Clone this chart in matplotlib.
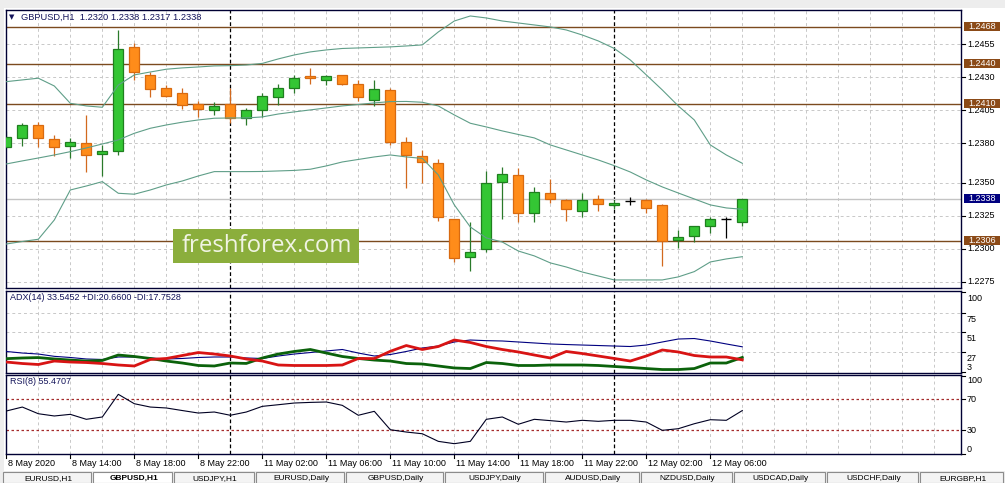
import matplotlib.pyplot as plt
import matplotlib.transforms as mtransforms
from matplotlib.patches import Rectangle

plt.rcParams['font.family'] = ['Liberation Sans', 'DejaVu Sans']

# ======== GBPUSD H1, 8 May 10:00 .. 12 May 08:00 ========
opens = [1.2377, 1.2384, 1.2394, 1.2383, 1.2378, 1.2380, 1.2372, 1.2374, 1.2453, 1.2432,
         1.2422, 1.2418, 1.2410, 1.2405, 1.2410, 1.2399, 1.2405, 1.2415, 1.2422, 1.2431,
         1.2428, 1.2432, 1.2425, 1.2413, 1.2420, 1.2381, 1.2370, 1.2365, 1.2323, 1.2294,
         1.2300, 1.2351, 1.2356, 1.2327, 1.2342, 1.2337, 1.2329, 1.2338, 1.2333, 1.2336,
         1.2337, 1.2333, 1.2307, 1.2310, 1.2317, 1.2323, 1.2320]
highs = [1.2389, 1.2395, 1.2396, 1.2386, 1.2384, 1.2401, 1.2379, 1.2466, 1.2456, 1.2434,
         1.2424, 1.2422, 1.2412, 1.2411, 1.2422, 1.2407, 1.2418, 1.2425, 1.2432, 1.2437,
         1.2432, 1.2432, 1.2428, 1.2428, 1.2422, 1.2385, 1.2375, 1.2368, 1.2323, 1.2320,
         1.2359, 1.2362, 1.2361, 1.2347, 1.2353, 1.2338, 1.2342, 1.2341, 1.2337, 1.2339,
         1.2338, 1.2334, 1.2314, 1.2317, 1.2324, 1.2324, 1.2338]
lows = [1.2376, 1.2378, 1.2377, 1.2370, 1.2369, 1.2358, 1.2355, 1.2371, 1.2428, 1.2415,
        1.2415, 1.2406, 1.2400, 1.2401, 1.2395, 1.2394, 1.2400, 1.2409, 1.2418, 1.2425,
        1.2424, 1.2424, 1.2412, 1.2408, 1.2379, 1.2346, 1.2350, 1.2321, 1.2290, 1.2283,
        1.2298, 1.2323, 1.2320, 1.2320, 1.2335, 1.2321, 1.2324, 1.2329, 1.2330, 1.2333,
        1.2327, 1.2287, 1.2301, 1.2305, 1.2312, 1.2308, 1.2317]
closes = [1.2385, 1.2394, 1.2384, 1.2377, 1.2381, 1.2371, 1.2374, 1.2451, 1.2434, 1.2421,
          1.2416, 1.2409, 1.2406, 1.2408, 1.2399, 1.2405, 1.2416, 1.2422, 1.2429, 1.2429,
          1.2431, 1.2425, 1.2415, 1.2421, 1.2381, 1.2371, 1.2366, 1.2324, 1.2293, 1.2298,
          1.2350, 1.2357, 1.2327, 1.2343, 1.2338, 1.2330, 1.2337, 1.2334, 1.2335, 1.2336,
          1.2331, 1.2306, 1.2309, 1.2317, 1.2323, 1.2323, 1.2338]

# Bollinger bands
bb_upper = [1.24266, 1.24279, 1.24292, 1.24233, 1.24102, 1.24082, 1.24072, 1.24240, 1.24317, 1.24339,
            1.24360, 1.24370, 1.24377, 1.24385, 1.24387, 1.24392, 1.24404, 1.24438, 1.24468, 1.24491,
            1.24506, 1.24517, 1.24521, 1.24525, 1.24529, 1.24536, 1.24544, 1.24642, 1.24725, 1.24763,
            1.24748, 1.24725, 1.24710, 1.24695, 1.24680, 1.24657, 1.24619, 1.24574, 1.24517, 1.24430,
            1.24317, 1.24203, 1.24082, 1.23976, 1.23787, 1.23711, 1.23648]
bb_mid = [1.23643, 1.23666, 1.23688, 1.23711, 1.23736, 1.23764, 1.23794, 1.23825, 1.23875, 1.23913,
          1.23938, 1.23959, 1.23976, 1.23989, 1.23991, 1.23991, 1.23999, 1.24021, 1.24037, 1.24052,
          1.24067, 1.24082, 1.24093, 1.24105, 1.24115, 1.24116, 1.24110, 1.24082, 1.24014, 1.23951,
          1.23923, 1.23893, 1.23866, 1.23840, 1.23787, 1.23749, 1.23711, 1.23673, 1.23630, 1.23582,
          1.23522, 1.23469, 1.23423, 1.23378, 1.23333, 1.23310, 1.23300]
bb_lower = [1.23037, 1.23056, 1.23073, 1.23219, 1.23446, 1.23476, 1.23509, 1.23421, 1.23414, 1.23446,
            1.23484, 1.23514, 1.23552, 1.23585, 1.23585, 1.23585, 1.23586, 1.23590, 1.23594, 1.23603,
            1.23628, 1.23658, 1.23677, 1.23696, 1.23711, 1.23696, 1.23685, 1.23560, 1.23333, 1.23166,
            1.23083, 1.23052, 1.22984, 1.22947, 1.22894, 1.22863, 1.22825, 1.22795, 1.22765, 1.22765,
            1.22765, 1.22765, 1.22788, 1.22828, 1.22901, 1.22924, 1.22941]

# ADX(14) panel
adx = [27.9, 26.0, 24.8, 22.0, 20.6, 18.8, 18.2, 21.2, 21.2, 20.0,
       18.8, 19.4, 20.6, 21.2, 21.2, 20.0, 19.4, 22.4, 24.8, 26.6,
       28.5, 30.3, 26.0, 22.4, 24.2, 27.9, 32.1, 34.5, 39.4, 41.8,
       41.0, 40.6, 39.4, 38.2, 37.0, 36.3, 35.7, 35.1, 34.5, 33.9,
       35.7, 39.4, 43.0, 43.6, 40.6, 37.0, 33.55]
plus_di = [19.2, 20.0, 20.5, 18.8, 17.5, 16.3, 17.0, 23.6, 21.8, 19.4,
           16.3, 13.9, 10.9, 10.3, 13.9, 13.4, 20.0, 24.8, 27.9, 30.3,
           26.0, 21.8, 19.4, 17.5, 16.3, 13.3, 12.7, 10.3, 7.9, 7.2,
           14.5, 13.3, 10.9, 10.9, 11.5, 11.5, 11.5, 10.9, 9.7, 8.5,
           7.2, 6.0, 6.0, 7.2, 13.9, 13.9, 20.66]
minus_di = [15.1, 13.3, 12.1, 16.3, 15.1, 14.5, 13.3, 11.5, 10.3, 18.2,
            19.4, 23.0, 26.6, 24.8, 22.4, 18.8, 16.3, 11.5, 10.9, 10.9,
            10.9, 11.5, 19.4, 19.3, 28.1, 35.1, 30.3, 33.9, 41.8, 38.8,
            33.9, 30.3, 27.3, 23.6, 20.0, 27.9, 25.4, 22.4, 19.4, 16.3,
            22.4, 29.7, 27.3, 23.0, 21.2, 21.2, 17.75]

# RSI(8) panel
rsi = [54.9, 60.0, 51.4, 48.5, 50.6, 44.2, 47.2, 76.4, 64.3, 60.0,
       58.8, 55.5, 52.3, 53.6, 49.4, 53.6, 60.9, 63.0, 65.2, 66.0,
       66.5, 62.2, 49.4, 54.5, 30.8, 27.8, 25.6, 15.8, 12.8, 15.8,
       44.2, 47.2, 37.8, 44.2, 42.5, 40.7, 42.9, 41.6, 42.9, 42.9,
       40.7, 30.0, 32.1, 38.5, 43.7, 42.9, 55.47]

time_labels = ["8 May 2020", "8 May 14:00", "8 May 18:00", "8 May 22:00", "11 May 02:00",
               "11 May 06:00", "11 May 10:00", "11 May 14:00", "11 May 18:00", "11 May 22:00",
               "12 May 02:00", "12 May 06:00"]
time_label_idx = [0, 4, 8, 12, 16, 20, 24, 28, 32, 36, 40, 44]
day_breaks = [14, 38]

price_ticks = [1.2455, 1.2430, 1.2405, 1.2380, 1.2350, 1.2325, 1.2300, 1.2275]
level_lines = [1.2468, 1.2440, 1.2410, 1.2306]
last_price = 1.2338
adx_ticks = [100, 75, 51, 27, 3]
rsi_ticks = [100, 70, 30, 0]
rsi_levels = [70, 30]

header = "GBPUSD,H1  1.2320 1.2338 1.2317 1.2338"
adx_title = "ADX(14) 33.5452 +DI:20.6600 -DI:17.7528"
rsi_title = "RSI(8) 55.4707"
tabs = ["EURUSD,H1", "GBPUSD,H1", "USDJPY,H1", "EURUSD,Daily", "GBPUSD,Daily", "USDJPY,Daily",
        "AUDUSD,Daily", "NZDUSD,Daily", "USDCAD,Daily", "USDCHF,Daily", "EURGBP,H1"]
tab_edges = [3, 93, 174, 256, 346, 445, 545, 641, 734, 827, 920, 1005]
# ======================================

W, H = 1005, 483
fig = plt.figure(figsize=(W / 100, H / 100), dpi=100, facecolor='white')


def px_axes(x0, y0, x1, y1):
    return fig.add_axes([x0 / W, 1 - y1 / H, (x1 - x0) / W, (y1 - y0) / H])


def fx(x):
    return x / W


def fy(y):
    return 1 - y / H


n = len(opens)
xs = list(range(n))
xlim = (-0.02, 59.67)
frame_c = '#000033'
grid_c = '#C8C8C8'
grid_ls = (0, (3, 3))
navy = '#14145A'
fs = 6.5

# window chrome
fig.add_artist(Rectangle((0, fy(8)), 1, 8 / H, transform=fig.transFigure, fc='#EDEDED', ec='none', zorder=0))
fig.add_artist(Rectangle((0, 0), 4 / W, 1, transform=fig.transFigure, fc='#EDEDED', ec='none', zorder=0))

ax_main = px_axes(6, 9.5, 961, 288)
ax_adx = px_axes(6, 291, 961, 373)
ax_rsi = px_axes(6, 375, 961, 454)

for ax in (ax_main, ax_adx, ax_rsi):
    ax.set_xlim(xlim)
    ax.set_xticks([])
    ax.set_yticks([])
    for s in ax.spines.values():
        s.set_color(frame_c)
        s.set_linewidth(1.0)
    for k in range(2, 60, 2):
        if k not in day_breaks:
            ax.axvline(k, color=grid_c, lw=0.7, ls=grid_ls, zorder=0)
    for k in day_breaks:
        ax.axvline(k, color='black', lw=0.9, ls=(0, (3, 2)), zorder=1)

# ---- main price panel ----
ax_main.set_ylim(1.22704, 1.24812)
for p in price_ticks:
    ax_main.axhline(p, color=grid_c, lw=0.7, ls=grid_ls, zorder=0)
ax_main.axhline(last_price, color='#C4C4C4', lw=1.0, zorder=1)
for p in level_lines:
    ax_main.axhline(p, color='#7B4A1E', lw=1.0, zorder=1)

bw = 0.62
for k, o, h, l, c in zip(xs, opens, highs, lows, closes):
    if c > o:
        fc, ec, wc = '#34C634', '#1F7F1F', '#2A7A2A'
    elif c < o:
        fc, ec, wc = '#FF8C1A', '#D86A10', '#D2691E'
    else:
        fc, ec, wc = 'black', 'black', 'black'
    ax_main.vlines(k, l, h, color=wc, lw=0.9, zorder=2)
    if c != o:
        ax_main.add_patch(Rectangle((k - bw / 2, min(o, c)), bw, abs(c - o),
                                    fc=fc, ec=ec, lw=0.9, zorder=3))
    else:
        ax_main.hlines(o, k - bw / 2, k + bw / 2, color='black', lw=1.0, zorder=3)

for band in (bb_upper, bb_mid, bb_lower):
    ax_main.plot(xs, band, color='#5F9E88', lw=0.8, zorder=4)

tr_main = mtransforms.blended_transform_factory(ax_main.transAxes, ax_main.transData)
ax_w = 955.0
for p in price_ticks:
    ax_main.plot([1, 1 + 4 / ax_w], [p, p], color='black', lw=0.8, transform=tr_main, clip_on=False)
    ax_main.text(1 + 6 / ax_w, p, f"{p:.4f}", transform=tr_main, fontsize=fs, color='black',
                 ha='left', va='center', clip_on=False, zorder=3)

box_w = 36 / ax_w
box_h = 9 / 13210
for p, col in [(v, '#8B4A17') for v in level_lines] + [(last_price, '#000080')]:
    ax_main.add_patch(Rectangle((1 + 3 / ax_w, p - box_h / 2), box_w, box_h, transform=tr_main,
                                fc=col, ec='none', clip_on=False, zorder=5))
    ax_main.text(1 + 3 / ax_w + box_w / 2, p, f"{p:.4f}", transform=tr_main, fontsize=fs,
                 color='white', ha='center', va='center', clip_on=False, zorder=6)

fig.text(fx(12), fy(17), "\u25BC", fontsize=5, color=navy, ha='center', va='center',
         family='DejaVu Sans')
fig.text(fx(21), fy(17), header, fontsize=6.7, color=navy, ha='left', va='center')

# watermark
fig.add_artist(Rectangle((fx(173), fy(263)), 186 / W, 34 / H, transform=fig.transFigure,
                         fc='#8BAE3C', ec='none', zorder=5))
fig.text(fx(267), fy(246.5), "freshforex.com", fontsize=17.3, color='#F1F4E4', ha='center',
         va='center', family='Open Sans', zorder=6)

# ---- ADX panel ----
ax_adx.set_ylim(1.8, 101.2)
for v in (75, 51, 27):
    ax_adx.axhline(v, color=grid_c, lw=0.7, ls=grid_ls, zorder=0)
ax_adx.plot(xs, adx, color='#000080', lw=0.8, zorder=3)
ax_adx.plot(xs, plus_di, color='#0B620B', lw=2.0, zorder=3)
ax_adx.plot(xs, minus_di, color='#D81414', lw=2.0, zorder=4)
tr_adx = mtransforms.blended_transform_factory(ax_adx.transAxes, ax_adx.transData)
down = mtransforms.ScaledTranslation(0, -2 / 100, fig.dpi_scale_trans)
for v in adx_ticks:
    ax_adx.plot([1, 1 + 4 / ax_w], [v, v], color='black', lw=0.8, transform=tr_adx, clip_on=False)
    if v == adx_ticks[-1]:
        ax_adx.text(1 + 6 / ax_w, v, str(v), transform=tr_adx, fontsize=fs, ha='left',
                    va='bottom', clip_on=False)
    else:
        ax_adx.text(1 + 6 / ax_w, v, str(v), transform=tr_adx + down, fontsize=fs, ha='left',
                    va='top', clip_on=False)
fig.text(fx(10), fy(297), adx_title, fontsize=fs, color=navy, ha='left', va='center')

# ---- RSI panel ----
ax_rsi.set_ylim(-0.5, 101.3)
for v in rsi_levels:
    ax_rsi.axhline(v, color='#A52A2A', lw=0.9, ls=(0, (2, 2)), zorder=1)
ax_rsi.plot(xs, rsi, color='#000022', lw=0.8, zorder=3)
tr_rsi = mtransforms.blended_transform_factory(ax_rsi.transAxes, ax_rsi.transData)
for v in rsi_ticks:
    ax_rsi.plot([1, 1 + 4 / ax_w], [v, v], color='black', lw=0.8, transform=tr_rsi, clip_on=False)
    va = 'top' if v == 100 else ('bottom' if v == 0 else 'center')
    ax_rsi.text(1 + 6 / ax_w, v, str(v), transform=tr_rsi, fontsize=fs, ha='left', va=va,
                clip_on=False)
fig.text(fx(10), fy(382), rsi_title, fontsize=fs, color=navy, ha='left', va='center')

# time axis
tr_time = mtransforms.blended_transform_factory(ax_rsi.transData, fig.transFigure)
for k, lab in zip(time_label_idx, time_labels):
    ax_rsi.plot([k, k], [fy(454), fy(458)], color='black', lw=0.8, transform=tr_time, clip_on=False)
    ax_rsi.text(k + 0.08, fy(463), lab, transform=tr_time, fontsize=fs, ha='left', va='center',
                clip_on=False)

# symbol tabs
fig.add_artist(Rectangle((0, 0), 1, 12 / H, transform=fig.transFigure, fc='#EDEDED',
                         ec='none', zorder=0))
for i, name in enumerate(tabs):
    x0, x1 = tab_edges[i], tab_edges[i + 1]
    active = (i == 1)
    fig.add_artist(Rectangle((fx(x0), 0), (x1 - x0 - 2) / W, 11 / H, transform=fig.transFigure,
                             fc='white' if active else '#F4F4F4', ec='#8C8C8C', lw=0.8, zorder=1))
    fig.text(fx((x0 + x1) / 2), fy(478.5), name, fontsize=6, ha='center', va='center',
             color='black', weight='bold' if active else 'normal')

fig.savefig("out.png", dpi=100, facecolor=fig.get_facecolor())
